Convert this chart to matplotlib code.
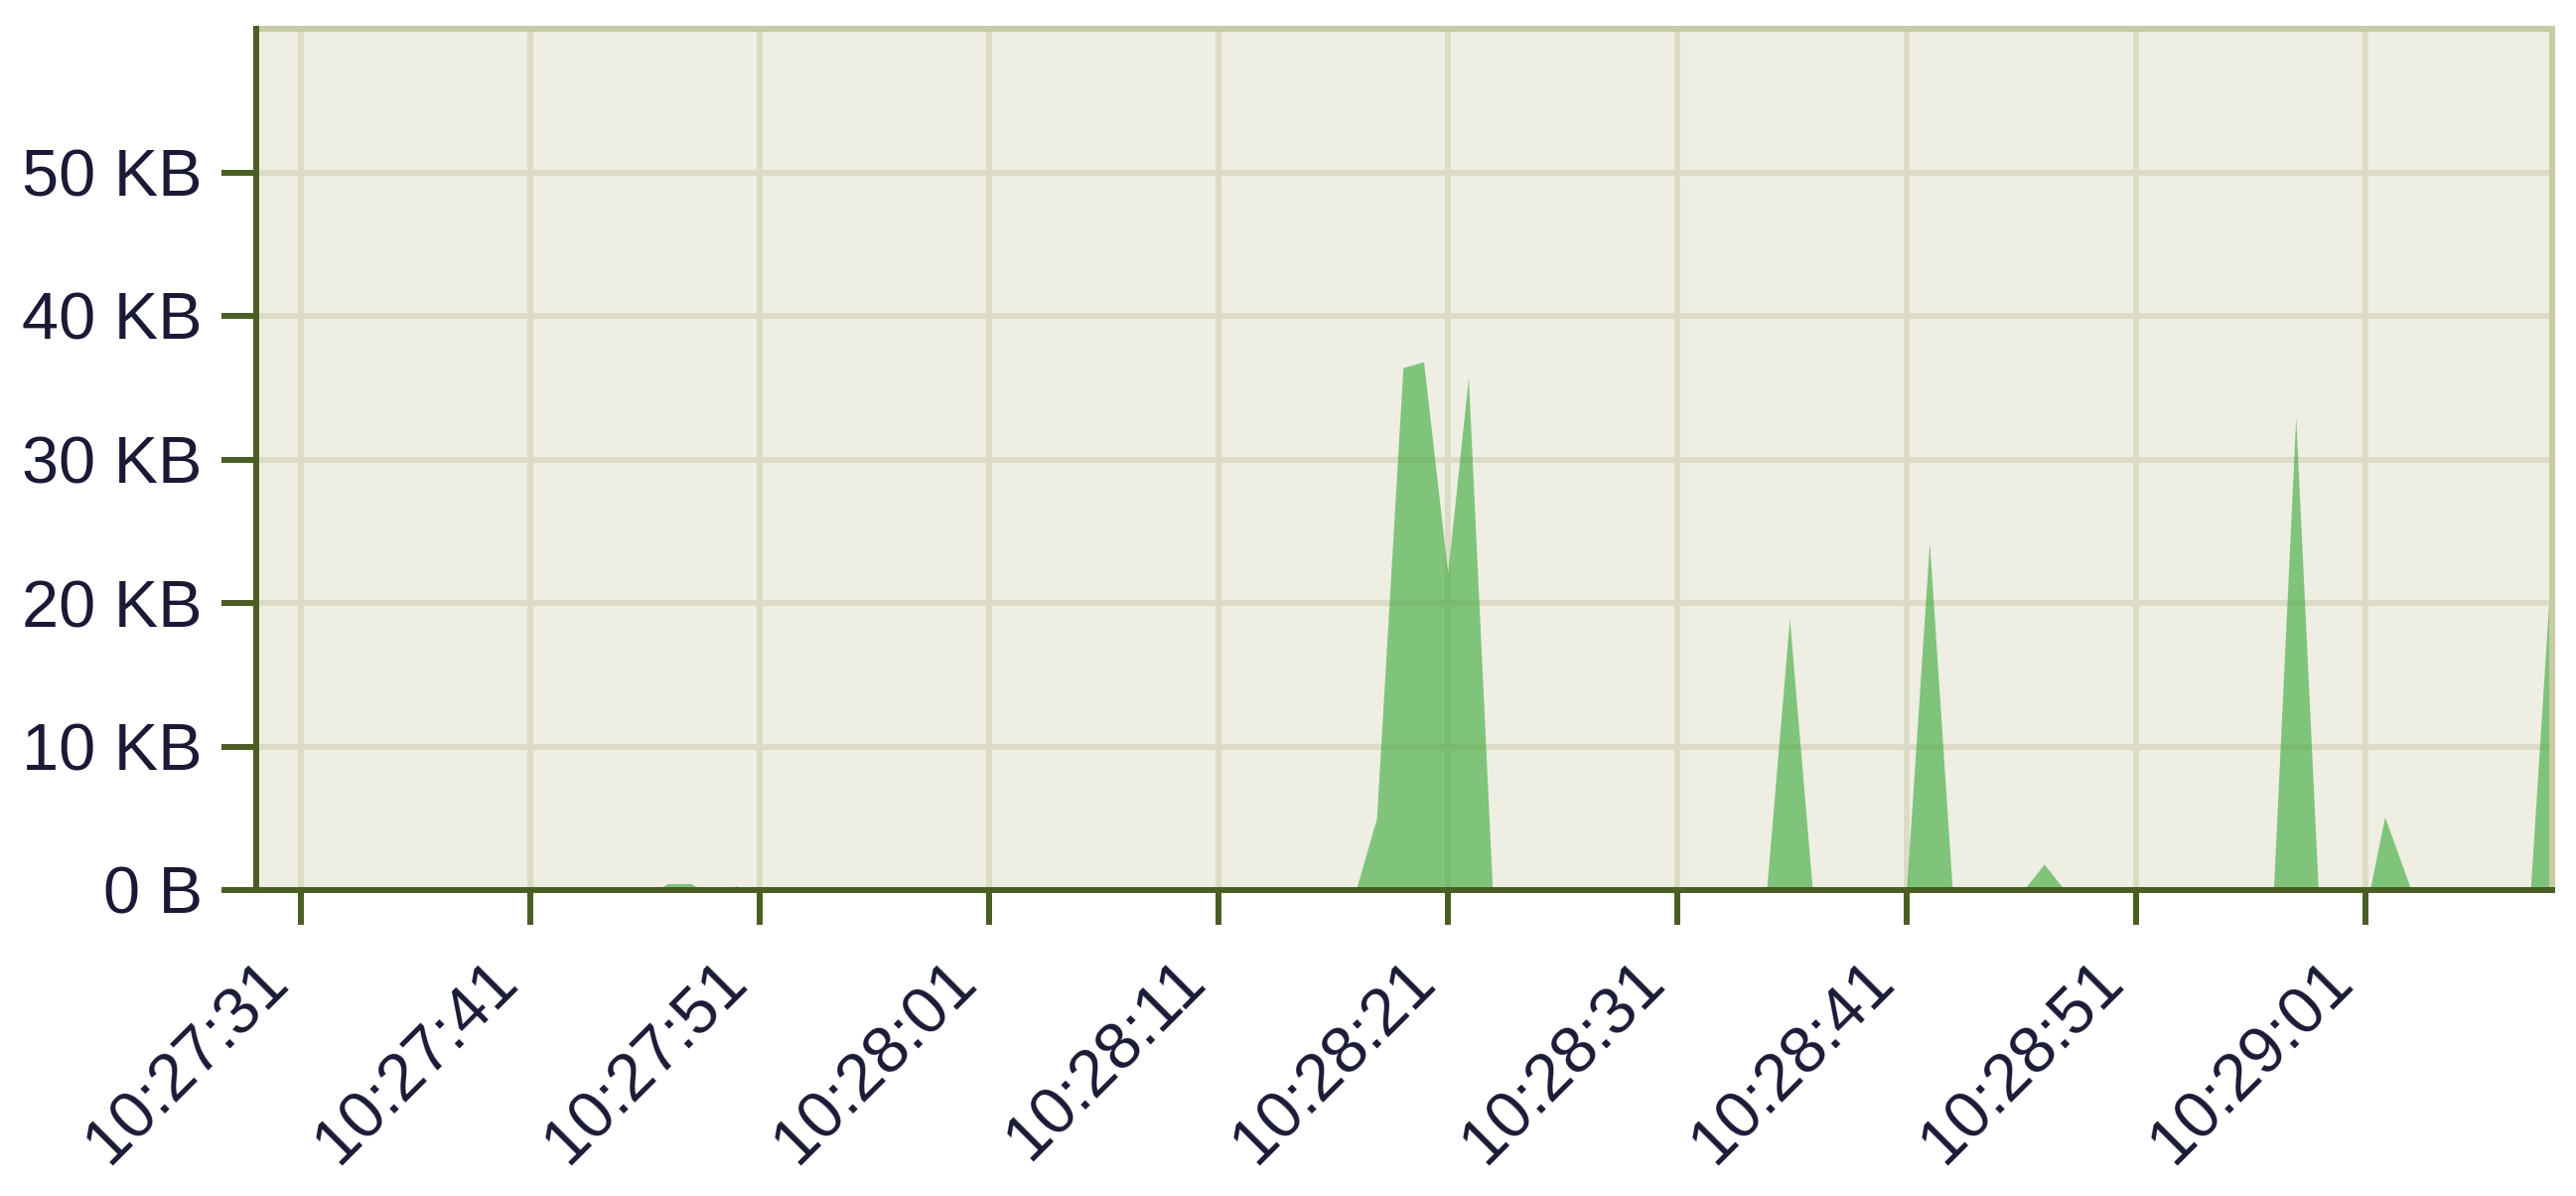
import datetime as dt
import matplotlib
matplotlib.use("Agg")
import matplotlib.pyplot as plt

# ---- data (seconds after 10:27:31, traffic in KB) ----
start = dt.datetime(2024, 1, 1, 10, 27, 31)
offset_seconds = [-3.0, 15.5, 16.0, 17.0, 17.5, 18.6, 19.0, 19.4,
                  46.0, 46.9, 48.05, 48.95, 50.0, 50.9, 51.95,
                  63.9, 64.9, 65.9,
                  70.0, 71.0, 72.0,
                  75.1, 76.0, 76.9,
                  86.0, 86.97, 87.95,
                  90.2, 90.85, 92.0,
                  97.2, 98.2]
traffic_kb = [0.0, 0.0, 0.45, 0.45, 0.0, 0.0, 0.3, 0.0,
              0.0, 5.0, 36.4, 36.8, 22.1, 35.7, 0.0,
              0.0, 18.9, 0.0,
              0.0, 24.2, 0.0,
              0.0, 1.8, 0.0,
              0.0, 32.9, 0.0,
              0.0, 5.1, 0.0,
              0.0, 25.0]
y_ticks_kb = [0, 10, 20, 30, 40, 50]
y_tick_labels = ["0 B", "10 KB", "20 KB", "30 KB", "40 KB", "50 KB"]
x_tick_labels = ["10:27:31", "10:27:41", "10:27:51", "10:28:01", "10:28:11",
                 "10:28:21", "10:28:31", "10:28:41", "10:28:51", "10:29:01"]

times = [start + dt.timedelta(seconds=s) for s in offset_seconds]
tick_times = [dt.datetime.combine(start.date(), dt.time.fromisoformat(t))
              for t in x_tick_labels]

W, H = 2594, 1204
fig = plt.figure(figsize=(W / 100, H / 100), dpi=100, facecolor="white")
L, R, T, B = 258, 2570, 29, 896
ax = fig.add_axes([L / W, 1 - B / H, (R - L) / W, (B - T) / H])
ax.set_facecolor("#eeeee2")

ax.fill_between(times, traffic_kb, 0, color="#37a838", alpha=0.6,
                linewidth=0, zorder=2)

ax.set_xlim(start - dt.timedelta(seconds=1.94), start + dt.timedelta(seconds=98.15))
ax.set_ylim(0, 60)

font = dict(family=["Liberation Sans", "DejaVu Sans"], size=48, color="#1a1a36")
ax.set_yticks(y_ticks_kb)
ax.set_yticklabels(y_tick_labels, **font)
ax.set_xticks(tick_times)
ax.set_xticklabels(x_tick_labels, rotation=45, ha="right", va="top",
                   rotation_mode="default", **font)

spine_col = "#4a5e23"
border_col = "#c8cba4"
lw = 4.3
ax.tick_params(axis="both", direction="out", length=25, width=lw,
               color=spine_col)
ax.tick_params(axis="y", pad=14)
ax.tick_params(axis="x", pad=18)

ax.set_axisbelow(True)
ax.grid(True, color="#dcdcc6", linewidth=lw, zorder=0.5)

for side in ("left", "bottom"):
    ax.spines[side].set_color(spine_col)
    ax.spines[side].set_linewidth(lw)
    ax.spines[side].set_zorder(5)
for side in ("top", "right"):
    ax.spines[side].set_color(border_col)
    ax.spines[side].set_linewidth(lw)

fig.savefig("out.png", dpi=100, facecolor="white")
